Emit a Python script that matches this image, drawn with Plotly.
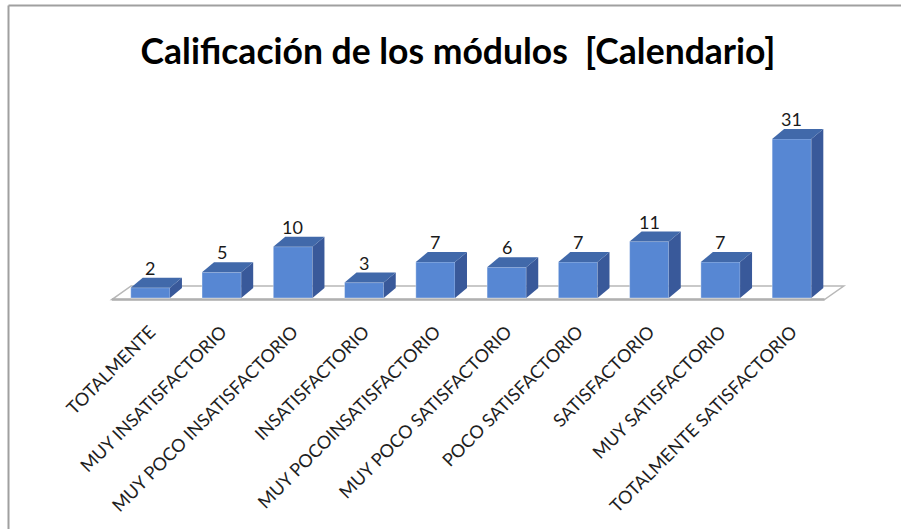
import plotly.graph_objects as go

categories = ["TOTALMENTE", "MUY INSATISFACTORIO", "MUY POCO INSATISFACTORIO",
              "INSATISFACTORIO", "MUY POCOINSATISFACTORIO", "MUY POCO SATISFACTORIO",
              "POCO SATISFACTORIO", "SATISFACTORIO", "MUY SATISFACTORIO",
              "TOTALMENTE SATISFACTORIO"]
values = [2, 5, 10, 3, 7, 6, 7, 11, 7, 31]
title_text = "Calificación de los módulos  [Calendario]"

FRONT = "#5787D3"
TOP = "#4169AA"
SIDE = "#39599A"
FONT = "Lato"

W = 0.55          # bar width (category units)
DXB, DYB = 0.168, 1.95   # bar depth offset
DXF, DYF = 0.27, 2.64    # floor depth offset
FY0 = -0.3

n = len(categories)
xs = list(range(n))

fig = go.Figure()

# front faces
fig.add_trace(go.Bar(x=xs, y=values, width=W, marker=dict(color=FRONT,
                     line=dict(color="rgba(255,255,255,0.35)", width=1)),
                     hoverinfo="skip", showlegend=False))

# side and top faces
for x, v in zip(xs, values):
    r = x + W / 2
    l = x - W / 2
    fig.add_trace(go.Scatter(x=[r, r, r + DXB, r + DXB, r], y=[0, v, v + DYB, DYB, 0],
                             fill="toself", fillcolor=SIDE, mode="lines",
                             line=dict(width=0, color=SIDE), hoverinfo="skip", showlegend=False))
    fig.add_trace(go.Scatter(x=[l, r, r + DXB, l + DXB, l], y=[v, v, v + DYB, v + DYB, v],
                             fill="toself", fillcolor=TOP, mode="lines",
                             line=dict(width=0, color=TOP), hoverinfo="skip", showlegend=False))
    fig.add_annotation(x=x, y=v, text=str(v), showarrow=False, yshift=20,
                       yanchor="middle", font=dict(family=FONT, size=18, color="#1a1a1a"))

# floor
x0f, x1f = -0.54, n - 1 + 0.46
floor_path = (f"M {x0f},{FY0} L {x1f},{FY0} L {x1f + DXF},{FY0 + DYF} "
              f"L {x0f + DXF},{FY0 + DYF} Z")
fig.add_shape(type="path", path=floor_path, xref="x", yref="y", layer="below",
              line=dict(color="#b8b8b8", width=1.5), fillcolor="white")
fig.add_shape(type="line", x0=x0f, y0=FY0, x1=x1f, y1=FY0, xref="x", yref="y",
              layer="below", line=dict(color="#b0b0b0", width=2.5))

# frame (top and left border of chart area)
L, R, T, B = 44, 38, 100, 219
PW, PH = 901 - L - R, 529 - T - B
fig.add_shape(type="line", xref="paper", yref="paper",
              x0=(8.5 - L) / PW, x1=(901 - L) / PW, y0=(529 - B - 5.5) / PH, y1=(529 - B - 5.5) / PH,
              line=dict(color="#a0a0a0", width=2))
fig.add_shape(type="line", xref="paper", yref="paper",
              x0=(8.5 - L) / PW, x1=(8.5 - L) / PW, y0=(529 - B - 5.5) / PH, y1=(529 - B - 529) / PH,
              line=dict(color="#a0a0a0", width=2))

fig.update_layout(
    width=901, height=529,
    margin=dict(l=L, r=R, t=T, b=B, autoexpand=False),
    paper_bgcolor="white", plot_bgcolor="white",
    title=dict(text="<b>" + title_text + "</b>", x=458 / 901, xanchor="center",
               y=1 - 52 / 529, yanchor="middle", yref="container",
               font=dict(family=FONT, size=35.5, color="black")),
    xaxis=dict(range=[-1.4925, 10.0], tickmode="array", tickvals=xs, ticktext=categories,
               tickangle=-45, showgrid=False, zeroline=False, showline=False, ticks="",
               automargin=False, ticklabelstandoff=7,
               tickfont=dict(family=FONT, size=18, color="#1f1f1f")),
    yaxis=dict(range=[-2.34, 38.6], visible=False, automargin=False),
    showlegend=False,
)

fig.write_html("out.html", config={"displayModeBar": False},
               post_script="document.body.style.margin='0';")
